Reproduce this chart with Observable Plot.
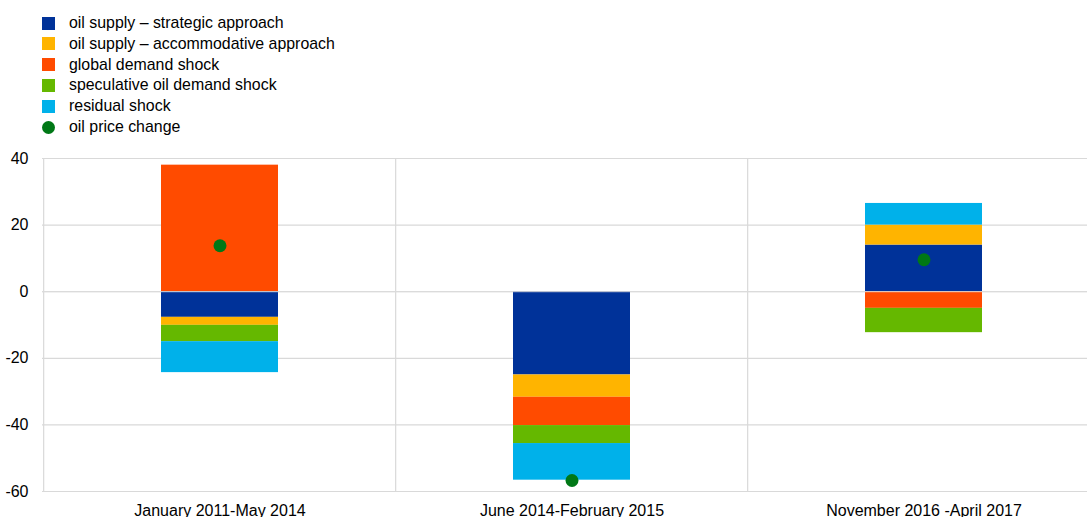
<!DOCTYPE html>
<html><head><meta charset="utf-8">
<script src="https://cdn.jsdelivr.net/npm/d3@7"></script>
<script src="https://cdn.jsdelivr.net/npm/@observablehq/plot@0.6"></script>
<style>
html,body{margin:0;padding:0;overflow:hidden;background:#fff;font-family:"Liberation Sans",Arial,sans-serif;}
#legend{position:relative;height:140px;width:1087px;}
.item{position:absolute;left:42px;height:20px;display:flex;align-items:center;font-size:15.9px;color:#000;white-space:nowrap;}
.sw{width:13px;height:13px;margin-right:14px;flex:none;}
.sw.dot{border-radius:50%;}
#chart{width:1087px;overflow:hidden;}
#chart svg{max-width:none !important;display:block;}
</style></head><body>
<div id="legend"></div><div id="chart"></div>
<script>
const categories = ["January 2011-May 2014", "June 2014-February 2015", "November 2016 -April 2017"];
const seriesNames = ["oil supply – strategic approach", "oil supply – accommodative approach", "global demand shock", "speculative oil demand shock", "residual shock"];
const seriesColors = ["#003299", "#FFB400", "#FF4B00", "#65B800", "#00B1EA"];
const strategic = [-7.7, -25.0, 14.0];
const accommodative = [-2.4, -6.7, 6.0];
const globalDemand = [38.0, -8.5, -5.0];
const speculative = [-4.9, -5.4, -7.3];
const residual = [-9.3, -11.0, 6.5];
const oilPriceChange = [13.8, -56.7, 9.6];
const priceLabel = "oil price change";
const priceColor = "#007816";
const yTicks = [-60, -40, -20, 0, 20, 40];

const seriesValues = [strategic, accommodative, globalDemand, speculative, residual];
const rows = [];
categories.forEach((c, ci) => {
  seriesNames.forEach((s, si) => rows.push({category: c, series: s, value: seriesValues[si][ci]}));
});
const points = categories.map((c, i) => ({category: c, value: oilPriceChange[i]}));

// legend
const legend = document.getElementById("legend");
const items = seriesNames.map((s, i) => ({label: s, color: seriesColors[i], dot: false}))
  .concat([{label: priceLabel, color: priceColor, dot: true}]);
items.forEach((it, i) => {
  const d = document.createElement("div");
  d.className = "item";
  d.style.top = (13 + 20.8 * i) + "px";
  const sw = document.createElement("span");
  sw.className = "sw" + (it.dot ? " dot" : "");
  sw.style.background = it.color;
  d.appendChild(sw);
  d.appendChild(document.createTextNode(it.label));
  legend.appendChild(d);
});

const W = 1100, H = 377, mL = 42, mR = 0;
const step = (W - mL - mR) / categories.length;
const chart = Plot.plot({
  width: W, height: H,
  marginLeft: mL, marginRight: mR, marginTop: 18, marginBottom: 26,
  style: {fontFamily: '"Liberation Sans", Arial, sans-serif', fontSize: "16px", color: "#000", background: "white", maxWidth: "none"},
  x: {domain: categories, paddingInner: 0.668, paddingOuter: 0.334, label: null, tickSize: 0, tickPadding: 13},
  y: {domain: [-60, 40], ticks: yTicks, tickFormat: d => String(d), label: null, tickSize: 0, tickPadding: 14},
  color: {domain: seriesNames, range: seriesColors},
  marks: [
    Plot.ruleY(yTicks, {stroke: "#d9d9d9", strokeWidth: 1.2}),
    Plot.ruleX(categories, {x: d => d, dx: -step / 2, stroke: "#d9d9d9", strokeWidth: 1.2}),
    Plot.barY(rows, {x: "category", y: "value", fill: "series"}),
    Plot.ruleY([0], {stroke: "#dcdcdc", strokeWidth: 1}),
    Plot.dot(points, {x: "category", y: "value", r: 6.5, fill: priceColor})
  ]
});
document.getElementById("chart").appendChild(chart);
</script>
</body></html>
